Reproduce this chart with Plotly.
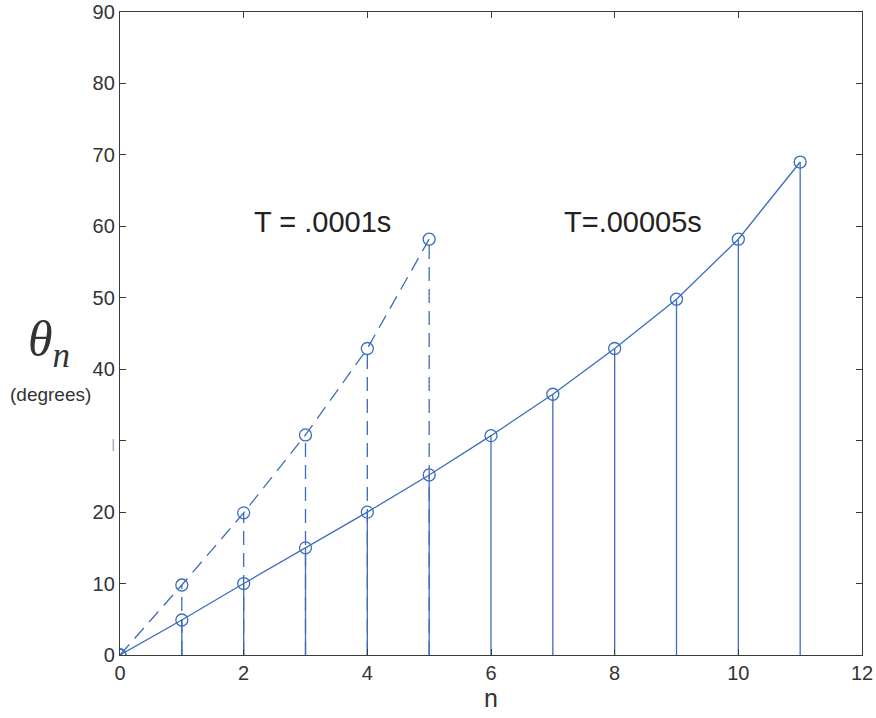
import plotly.graph_objects as go

# Sample index and angle (degrees) for the two sampling periods
n_fine = [0, 1, 2, 3, 4, 5, 6, 7, 8, 9, 10, 11]
theta_fine = [0, 4.9, 10.0, 15.0, 20.0, 25.2, 30.7, 36.5, 42.9, 49.8, 58.2, 69.0]   # T = .00005s

n_coarse = [0, 1, 2, 3, 4, 5]
theta_coarse = [0, 9.8, 19.9, 30.8, 42.9, 58.2]   # T = .0001s

x_ticks = [0, 2, 4, 6, 8, 10, 12]
y_ticks = [0, 10, 20, 30, 40, 50, 60, 70, 80, 90]
y_ticktext = ["0", "10", "20", "<span style='font-size:13px;color:#8a9ab8'>|</span>",
              "40", "50", "60", "70", "80", "90"]

BLUE = "#3d6cbc"
AXIS = "#3a3a3a"
FONT = "Liberation Sans, Arial"


def stems(xs, ys):
    sx, sy = [], []
    for x, y in zip(xs, ys):
        sx += [x, x, None]
        sy += [0, y, None]
    return sx, sy


fig = go.Figure()

# T = .0001s : dashed stems and dashed connecting line
cx, cy = stems(n_coarse, theta_coarse)
fig.add_trace(go.Scatter(x=cx, y=cy, mode="lines",
                         line=dict(color=BLUE, width=1.3, dash="14px,8px"),
                         hoverinfo="skip", showlegend=False))
fig.add_trace(go.Scatter(x=n_coarse, y=theta_coarse, mode="lines+markers",
                         line=dict(color=BLUE, width=1.3, dash="14px,8px"),
                         marker=dict(symbol="circle-open", size=12,
                                     line=dict(color=BLUE, width=1.3)),
                         showlegend=False))

# T = .00005s : solid stems and connecting line
fx, fy = stems(n_fine, theta_fine)
fig.add_trace(go.Scatter(x=fx, y=fy, mode="lines",
                         line=dict(color=BLUE, width=1.3),
                         hoverinfo="skip", showlegend=False))
fig.add_trace(go.Scatter(x=n_fine, y=theta_fine, mode="lines+markers",
                         line=dict(color=BLUE, width=1.3),
                         marker=dict(symbol="circle-open", size=12,
                                     line=dict(color=BLUE, width=1.3)),
                         showlegend=False))

axis_common = dict(showline=True, linecolor=AXIS, linewidth=1.3, mirror="ticks",
                   ticks="inside", ticklen=6, tickcolor=AXIS, tickwidth=1.2,
                   showgrid=False, zeroline=False, automargin=False,
                   tickfont=dict(family=FONT, size=20, color="#333"))

fig.update_xaxes(range=[0, 12], tickvals=x_ticks, **axis_common,
                 title=dict(text="n", font=dict(family=FONT, size=25, color="#333"),
                            standoff=2))
fig.update_yaxes(range=[0, 90], tickvals=y_ticks, ticktext=y_ticktext, **axis_common)

fig.add_annotation(x=3.28, y=60.6, xref="x", yref="y", showarrow=False,
                   text="T = .0001s",
                   font=dict(family=FONT, size=29, color="#222"))
fig.add_annotation(x=8.3, y=60.6, xref="x", yref="y", showarrow=False,
                   text="T=.00005s",
                   font=dict(family=FONT, size=29, color="#222"))

# y-axis label: theta_n with unit underneath
fig.add_annotation(x=-0.096, y=0.485, xref="paper", yref="paper", showarrow=False,
                   xanchor="center", yanchor="middle",
                   text="<i>θ<sub>n</sub></i>",
                   font=dict(family="Liberation Serif, DejaVu Serif", size=50, color="#333"))
fig.add_annotation(x=-0.093, y=0.405, xref="paper", yref="paper", showarrow=False,
                   text="(degrees)", xanchor="center", yanchor="middle",
                   font=dict(family=FONT, size=19, color="#333"))

fig.update_layout(width=876, height=718,
                  margin=dict(l=120, r=14, t=12, b=63),
                  paper_bgcolor="white", plot_bgcolor="white")

fig.write_html("out.html")
